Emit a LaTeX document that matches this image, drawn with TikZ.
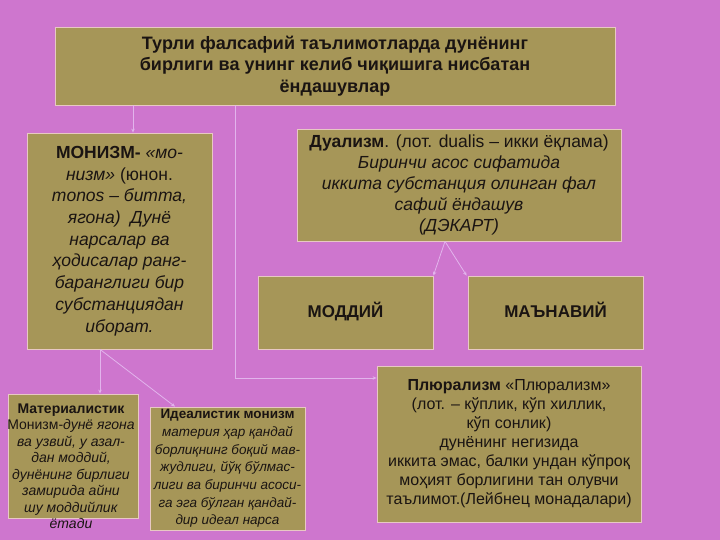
\documentclass[tikz,border=0pt]{standalone}
\usepackage{fontspec}
\setmainfont{Liberation Sans}
\usetikzlibrary{arrows.meta, positioning}
\definecolor{slidebg}{RGB}{206,118,206}
\definecolor{boxfill}{RGB}{166,150,88}
\definecolor{boxline}{RGB}{232,200,196}
\definecolor{linkline}{RGB}{226,180,236}
\definecolor{textdark}{RGB}{26,20,18}

\begin{document}
\begin{tikzpicture}[x=1pt, y=-1pt,
  block/.style={draw=boxline, line width=0.8pt, fill=boxfill, text=textdark, align=center, inner sep=0pt},
  link/.style={draw=linkline, line width=0.8pt, -{Stealth[length=4pt, width=3.5pt]}},
  kind/.style={block, minimum width=175pt, minimum height=73pt, text height=12.5pt, text depth=3.5pt, font=\fontsize{17}{21}\selectfont\bfseries},
]

\fill[slidebg] (0,0) rectangle (720,540);
\useasboundingbox (0,0) rectangle (720,540);

\node[block, minimum width=560pt, minimum height=78pt, font=\fontsize{18}{21.5}\selectfont\bfseries] (title) at (335,66) {Турли фалсафий таълимотларда дунёнинг\\бирлиги ва унинг келиб чиқишига нисбатан\\ёндашувлар};

\node[block, minimum width=185pt, minimum height=216pt, font=\fontsize{17.5}{21.7}\selectfont] (monism) at (119.5,241) {\textbf{МОНИЗМ-} \textit{«мо-}\\\textit{низм»} (юнон.\\\textit{monos – битта,}\\\textit{ягона)\ \ Дунё}\\\textit{нарсалар ва}\\\textit{ҳодисалар ранг-}\\\textit{баранглиги бир}\\\textit{субстанциядан}\\\textit{иборат.}};

\node[block, minimum width=324pt, minimum height=112pt, font=\fontsize{17.5}{21}\selectfont] (dual) at (459,185) {\textbf{Дуализм}. (лот. dualis – икки ёқлама)\\\textit{Биринчи асос сифатида}\\\textit{иккита субстанция олинган фал}\\\textit{сафий ёндашув}\\\textit{(ДЭКАРТ)}};

\node[kind] (moddiy) at (345.5,312.5) {МОДДИЙ};
\node[kind] (manaviy) at (555.5,312.5) {МАЪНАВИЙ};

\node[block, minimum width=264pt, minimum height=156pt, font=\fontsize{16}{19}\selectfont] (plural) at (509,444) {\textbf{Плюрализм} «Плюрализм»\\(лот. – кўплик, кўп хиллик,\\кўп сонлик)\\дунёнинг негизида\\иккита эмас, балки ундан кўпроқ\\моҳият борлигини тан олувчи\\таълимот.(Лейбнец монадалари)};

% Materialist box, its text runs past the bottom edge
\node[block, minimum width=130pt, minimum height=124pt] (matbox) at (73,456) {};
\node[text=textdark, align=center, inner sep=0pt, font=\fontsize{14}{16.5}\selectfont] (mattext) at (71,466) {\textbf{Материалистик}\\Монизм-\textit{дунё ягона}\\\textit{ва узвий, у азал-}\\\textit{дан моддий,}\\\textit{дунёнинг бирлиги}\\\textit{замирида айни}\\\textit{шу моддийлик}\\\textit{ётади}};

\node[block, minimum width=155pt, minimum height=123pt, font=\fontsize{13.5}{17.7}\selectfont] (ideal) at (227.5,468.5) {\textbf{Идеалистик монизм}\\\textit{материя ҳар қандай}\\\textit{борлиқнинг боқий мав-}\\\textit{жудлиги, йўқ бўлмас-}\\\textit{лиги ва биринчи асоси-}\\\textit{га эга бўлган қандай-}\\\textit{дир идеал нарса}};

% Connectors
\draw[link] ([xshift=-202pt]title.south) -- ([xshift=13.5pt]monism.north);
\draw[link] ([xshift=-100pt]title.south) |- ([yshift=66pt]plural.west);
\draw[link] ([xshift=-19.5pt]monism.south) -- ([xshift=27pt]matbox.north);
\draw[link] ([xshift=-19.5pt]monism.south) -- ([xshift=-52.5pt]ideal.north);
\draw[link] ([xshift=-14pt]dual.south) -- (moddiy.north east);
\draw[link] ([xshift=-14pt]dual.south) -- ([xshift=-1pt]manaviy.north west);

\end{tikzpicture}
\end{document}
